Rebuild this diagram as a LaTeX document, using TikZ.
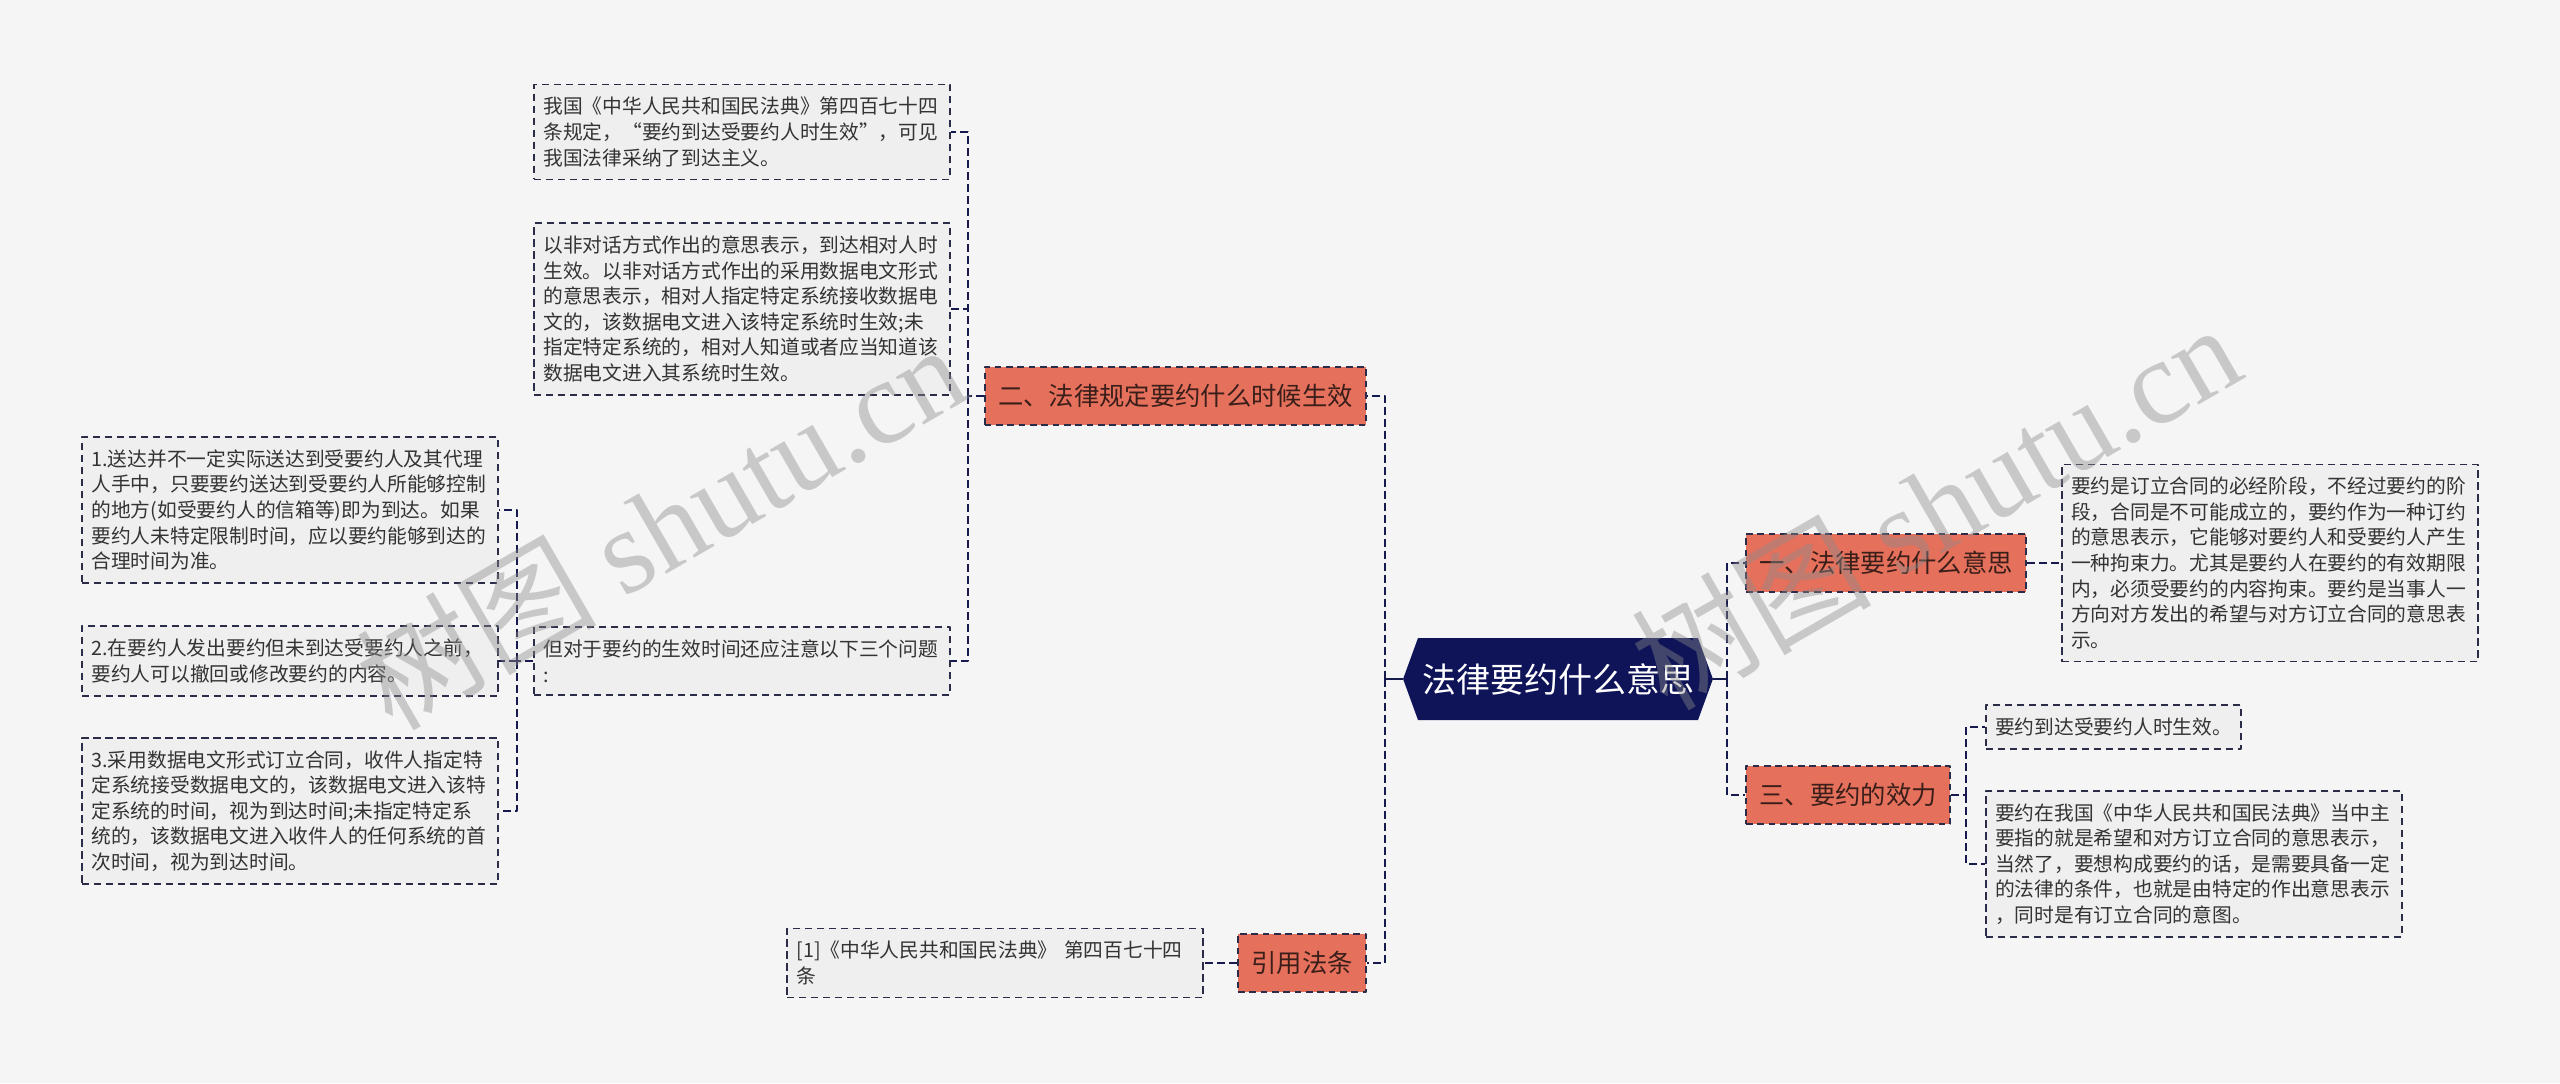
\documentclass[tikz,border=0pt]{standalone}
\usepackage{fontspec}
\setmainfont{Noto Sans CJK SC}
\newfontfamily\wmfont{Liberation Serif}
\usepackage{tikz}
\usetikzlibrary{
    calc,
    positioning,
    shapes.symbols
}
\definecolor{paper}{HTML}{F5F5F5}
\definecolor{notefill}{HTML}{EFEFEF}
\definecolor{noteline}{HTML}{2A2C48}
\definecolor{notetext}{HTML}{333333}
\definecolor{coral}{HTML}{E5705B}
\definecolor{topictext}{HTML}{3A1E1A}
\definecolor{navy}{HTML}{0E1457}
\definecolor{linkcol}{HTML}{161A4C}
\definecolor{wmgray}{HTML}{8C8C8C}
\tikzset{
    every picture/.style = {
        x = 0.75pt,
        y = -0.75pt,
        line join = round
    },
    note/.style = {
        draw = noteline,
        line width = 1.3pt,
        dash pattern = on 5.5pt off 3.5pt,
        fill = notefill,
        text = notetext,
        inner xsep = 7pt,
        inner ysep = 9.5pt,
        align = left,
        font = \fontsize{14.8}{19.2}\selectfont
    },
    wide note/.style = {
        note,
        text width = 298pt
    },
    topic/.style = {
        draw = noteline,
        line width = 1.5pt,
        dash pattern = on 5pt off 3.5pt,
        fill = coral,
        text = topictext,
        inner xsep = 10pt,
        minimum height = 44pt,
        font = \fontsize{19}{23}\selectfont
    },
    root/.style = {
        signal,
        signal to = west and east,
        signal pointer angle = 140,
        fill = navy,
        text = white,
        inner xsep = 3pt,
        minimum height = 61.5pt,
        font = \fontsize{25.5}{30}\selectfont
    },
    link/.style = {
        draw = linkcol,
        line width = 2pt,
        dash pattern = on 6pt off 3pt
    },
    stem/.style = {
        draw = linkcol,
        line width = 2pt
    },
    wmark/.style = {
        text = wmgray,
        text opacity = 0.42,
        font = \fontsize{90}{90}\selectfont
    }
}

\begin{document}
\begin{tikzpicture}
    \useasboundingbox (0, 0) rectangle (2560, 1083);
    \fill[paper] (0, 0) rectangle (2560, 1083);
    % \draw[step = 100, lightgray, very thin] (0, 0) grid (2560, 1083);

    \node[root] (root) at (1558, 679) {法律要约什么意思};

    \node[topic, anchor = east] (when) at (1367, 396) {二、法律规定要约什么时候生效};
    \node[topic, anchor = east] (cite) at (1367, 963) {引用法条};
    \node[topic, anchor = west] (meaning) at (1745, 563) {一、法律要约什么意思};
    \node[topic, anchor = west] (effect) at (1745, 795) {三、要约的效力};

    \node[wide note, anchor = east] (code) at (951, 132) {我国《中华人民共和国民法典》第四百七十四\\条规定，“要约到达受要约人时生效”，可见\\我国法律采纳了到达主义。};
    \node[wide note, anchor = east] (nondialog) at (951, 309) {以非对话方式作出的意思表示，到达相对人时\\生效。以非对话方式作出的采用数据电文形式\\的意思表示，相对人指定特定系统接收数据电\\文的，该数据电文进入该特定系统时生效;未\\指定特定系统的，相对人知道或者应当知道该\\数据电文进入其系统时生效。};
    \node[wide note, anchor = east] (issues) at (951, 661) {但对于要约的生效时间还应注意以下三个问题\\:};

    \node[wide note, anchor = east] (one) at (499, 510) {1.送达并不一定实际送达到受要约人及其代理\\人手中，只要要约送达到受要约人所能够控制\\的地方(如受要约人的信箱等)即为到达。如果\\要约人未特定限制时间，应以要约能够到达的\\合理时间为准。};
    \node[wide note, anchor = east] (two) at (499, 661) {2.在要约人发出要约但未到达受要约人之前，\\要约人可以撤回或修改要约的内容。};
    \node[wide note, anchor = east] (three) at (499, 811) {3.采用数据电文形式订立合同，收件人指定特\\定系统接受数据电文的，该数据电文进入该特\\定系统的时间，视为到达时间;未指定特定系\\统的，该数据电文进入收件人的任何系统的首\\次时间，视为到达时间。};

    \node[wide note, anchor = west] (stage) at (2061, 563) {要约是订立合同的必经阶段，不经过要约的阶\\段，合同是不可能成立的，要约作为一种订约\\的意思表示，它能够对要约人和受要约人产生\\一种拘束力。尤其是要约人在要约的有效期限\\内，必须受要约的内容拘束。要约是当事人一\\方向对方发出的希望与对方订立合同的意思表\\示。};
    \node[note, anchor = west] (arrive) at (1985, 727) {要约到达受要约人时生效。};
    \node[wide note, anchor = west] (intent) at (1985, 864) {要约在我国《中华人民共和国民法典》当中主\\要指的就是希望和对方订立合同的意思表示，\\当然了，要想构成要约的话，是需要具备一定\\的法律的条件，也就是由特定的作出意思表示\\，同时是有订立合同的意图。};
    \node[wide note, anchor = east] (article) at (1204, 963) {[1]《中华人民共和国民法典》 第四百七十四\\条};

    % trunks
    \coordinate (ltrunk) at (1385, 679);
    \coordinate (rtrunk) at (1727, 679);
    \coordinate (whentrunk) at (968, 396);
    \coordinate (issuetrunk) at (517, 661);
    \coordinate (effecttrunk) at (1966, 795);

    \draw[stem] (root.west) -- (ltrunk);
    \draw[stem] (root.east) -- (rtrunk);
    \draw[link] (ltrunk) |- (when.east);
    \draw[link] (ltrunk) |- (cite.east);
    \draw[link] (rtrunk) |- (meaning.west);
    \draw[link] (rtrunk) |- (effect.west);

    \draw[link] (when.west) -- (whentrunk);
    \draw[link] (whentrunk) |- (code.east);
    \draw[link] (whentrunk) |- (nondialog.east);
    \draw[link] (whentrunk) |- (issues.east);

    \draw[link] (issues.west) -- (issuetrunk);
    \draw[link] (issuetrunk) |- (one.east);
    \draw[link] (issuetrunk) |- (two.east);
    \draw[link] (issuetrunk) |- (three.east);

    \draw[link] (meaning.east) -- (stage.west);
    \draw[link] (effect.east) -- (effecttrunk);
    \draw[link] (effecttrunk) |- (arrive.west);
    \draw[link] (effecttrunk) |- (intent.west);
    \draw[link] (cite.west) -- (article.east);

    % watermarks
    \node[wmark, rotate = 30] (wmleft) at (660, 525) {树图 {\wmfont shutu.cn}};
    \node[wmark, rotate = 30] (wmright) at (1935, 505) {树图 {\wmfont shutu.cn}};
\end{tikzpicture}
\end{document}
